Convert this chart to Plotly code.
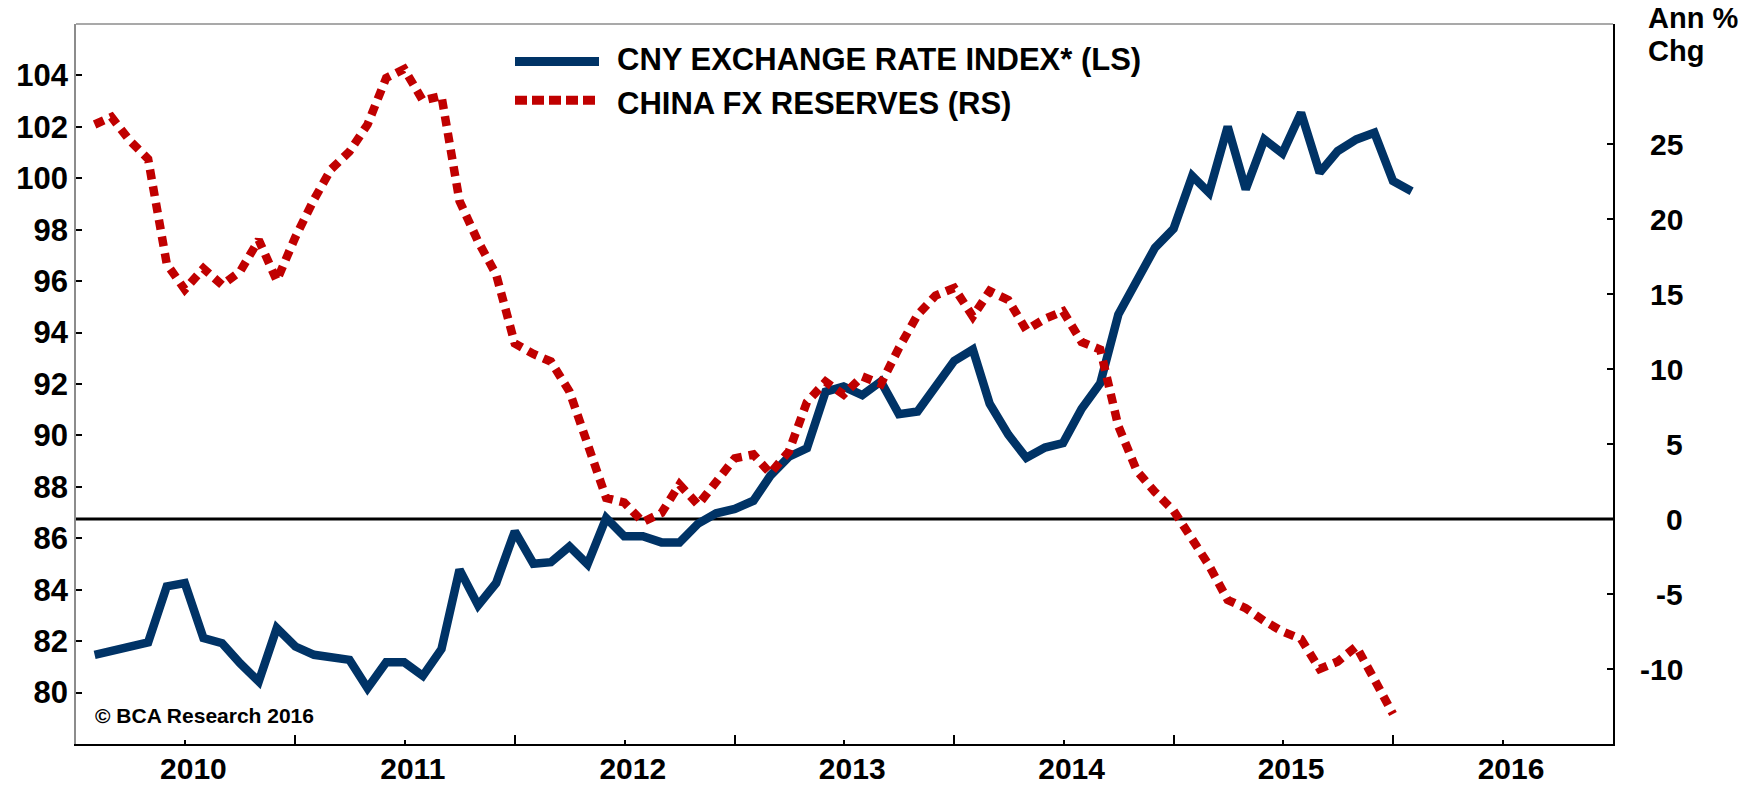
import plotly.graph_objects as go

# ---------------- data ----------------
# CNY exchange rate index (left scale), monthly Feb-2010 .. Feb-2016
cny_start = "2010-02-01"
cny_values = [81.47, 81.62, 81.78, 81.95, 84.13, 84.26, 82.12, 81.92, 81.14, 80.43,
              82.51, 81.79, 81.47, 81.40, 81.27, 80.17, 81.18, 81.18, 80.65, 81.69,
              84.78, 83.39, 84.26, 86.27, 85.01, 85.07, 85.68, 84.99, 86.79, 86.08,
              86.08, 85.84, 85.84, 86.57, 86.97, 87.14, 87.46, 88.43, 89.17, 89.50,
              91.70, 91.90, 91.57, 92.10, 90.83, 90.93, 91.95, 92.90, 93.34, 91.23,
              90.03, 89.13, 89.53, 89.70, 91.04, 92.03, 94.70, 95.94, 97.30, 98.04,
              100.09, 99.44, 102.01, 99.57, 101.51, 100.97, 102.55, 100.22, 101.06, 101.51,
              101.77, 99.89, 99.50]

# China FX reserves, annual % change (right scale), monthly Feb-2010 .. Jan-2016
fx_start = "2010-02-01"
fx_values = [26.3, 26.8, 25.2, 24.0, 17.0, 15.3, 16.7, 15.6, 16.5, 18.6,
             15.9, 18.8, 21.3, 23.3, 24.5, 26.3, 29.4, 30.0, 27.9, 28.2,
             21.2, 18.5, 16.3, 11.7, 11.0, 10.5, 8.5, 4.9, 1.4, 1.1,
             -0.2, 0.4, 2.3, 0.95, 2.4, 4.05, 4.3, 3.05, 4.5, 7.8,
             9.15, 8.3, 9.5, 9.0, 11.4, 13.6, 14.9, 15.4, 13.5, 15.2,
             14.6, 12.6, 13.35, 13.85, 11.8, 11.3, 6.2, 3.2, 1.8, 0.55,
             -1.35, -3.1, -5.4, -5.95, -6.8, -7.5, -8.0, -10.0, -9.5, -8.5,
             -10.7, -13.0]

years = [2010, 2011, 2012, 2013, 2014, 2015, 2016]
left_ticks = [80, 82, 84, 86, 88, 90, 92, 94, 96, 98, 100, 102, 104]
right_ticks = [-10, -5, 0, 5, 10, 15, 20, 25]

series_names = ["CNY EXCHANGE RATE INDEX* (LS)", "CHINA FX RESERVES (RS)"]
right_title = ["Ann %", "Chg"]
credit = "© BCA Research 2016"


def month_dates(start, n):
    y, m = int(start[:4]), int(start[5:7])
    out = []
    for _ in range(n):
        out.append(f"{y:04d}-{m:02d}-01")
        m += 1
        if m > 12:
            m = 1
            y += 1
    return out


cny_dates = month_dates(cny_start, len(cny_values))
fx_dates = month_dates(fx_start, len(fx_values))

BLUE = "#003366"
RED = "#C00000"
FONT = "Arial, Liberation Sans, Helvetica, sans-serif"

fig = go.Figure()
fig.add_trace(go.Scatter(x=cny_dates, y=cny_values, mode="lines", name=series_names[0],
                         line=dict(color=BLUE, width=8.5), yaxis="y", showlegend=False))
fig.add_trace(go.Scatter(x=fx_dates, y=fx_values, mode="lines", name=series_names[1],
                         line=dict(color=RED, width=8.5, dash="10px,7px"), yaxis="y2",
                         showlegend=False))

# plot area geometry (pixels)
W, H = 1748, 787
ML, MR, MT, MB = 76, 135, 24, 43
PW = W - ML - MR
PH = H - MT - MB


def px(xp):
    return (xp - ML) / PW


def py(yp):
    return (H - MB - yp) / PH


shapes = [
    # zero line of the right scale
    dict(type="line", xref="paper", x0=0, x1=1, yref="y2", y0=0, y1=0,
         line=dict(color="black", width=3), layer="below"),
    # top frame
    dict(type="line", xref="paper", x0=0, x1=1, yref="paper", y0=1, y1=1,
         line=dict(color="#8c8c8c", width=1.5)),
    # legend samples
    dict(type="line", xref="paper", x0=px(515), x1=px(599), yref="paper", y0=py(61.5), y1=py(61.5),
         line=dict(color=BLUE, width=9)),
    dict(type="line", xref="paper", x0=px(515), x1=px(599), yref="paper", y0=py(100.3), y1=py(100.3),
         line=dict(color=RED, width=9, dash="12px,5px")),
]

annotations = [
    dict(text=series_names[0], xref="paper", yref="paper", x=px(615), y=py(59.2),
         xanchor="left", yanchor="middle", showarrow=False,
         font=dict(family=FONT, size=31, color="black", weight="bold")),
    dict(text=series_names[1], xref="paper", yref="paper", x=px(615), y=py(103.8),
         xanchor="left", yanchor="middle", showarrow=False,
         font=dict(family=FONT, size=31, color="black", weight="bold")),
    dict(text=credit, xref="paper", yref="paper", x=px(93), y=py(715),
         xanchor="left", yanchor="middle", showarrow=False,
         font=dict(family=FONT, size=21, color="black", weight="bold")),
    dict(text=right_title[0], xref="paper", yref="paper", x=px(1646), y=py(18),
         xanchor="left", yanchor="middle", showarrow=False,
         font=dict(family=FONT, size=29, color="black", weight="bold")),
    dict(text=right_title[1], xref="paper", yref="paper", x=px(1646), y=py(51),
         xanchor="left", yanchor="middle", showarrow=False,
         font=dict(family=FONT, size=29, color="black", weight="bold")),
]
for v in right_ticks:
    annotations.append(dict(text=str(v), xref="paper", yref="y2", x=px(1685), y=v,
                            xanchor="right", yanchor="middle", showarrow=False,
                            font=dict(family=FONT, size=30, color="black", weight="bold")))

fig.update_layout(
    width=W, height=H, autosize=False,
    margin=dict(l=ML, r=MR, t=MT, b=MB, pad=0, autoexpand=False),
    paper_bgcolor="white", plot_bgcolor="white",
    showlegend=False,
    font=dict(family=FONT, color="black"),
    xaxis=dict(
        type="date", range=["2010-01-01", "2017-01-01"], automargin=False,
        showgrid=False, zeroline=False,
        showline=True, linecolor="black", linewidth=1.5,
        ticks="inside", ticklen=4.5, tickwidth=1.5, tickcolor="black",
        tickmode="array",
        tickvals=[f"{y}-07-02" for y in years],
        ticktext=[str(y) for y in years],
        ticklabelshift=8,
        ticklabelstandoff=-3,
        tickfont=dict(family=FONT, size=30, color="black", weight="bold"),
        minor=dict(tickmode="array", tickvals=[f"{y}-01-01" for y in years[1:]],
                   ticks="inside", ticklen=9, tickwidth=1.5, tickcolor="black"),
    ),
    yaxis=dict(
        range=[78, 106], tickmode="array", tickvals=left_ticks, automargin=False,
        ticktext=[str(v) for v in left_ticks],
        showgrid=False, zeroline=False,
        showline=True, linecolor="#8c8c8c", linewidth=1.5,
        ticks="inside", ticklen=6, tickwidth=1.5, tickcolor="black",
        tickfont=dict(family=FONT, size=31, color="black", weight="bold"),
    ),
    yaxis2=dict(
        range=[-15, 33], overlaying="y", side="right", automargin=False,
        tickmode="array", tickvals=right_ticks, showticklabels=False,
        showgrid=False, zeroline=False,
        showline=True, linecolor="black", linewidth=1.5,
        ticks="inside", ticklen=6, tickwidth=1.5, tickcolor="black",
    ),
    shapes=shapes,
    annotations=annotations,
)

fig.write_html(
    "out.html",
    config={"displayModeBar": False},
    post_script="document.body.style.margin='0px';document.body.style.padding='0px';"
                "document.body.style.overflow='hidden';",
)
